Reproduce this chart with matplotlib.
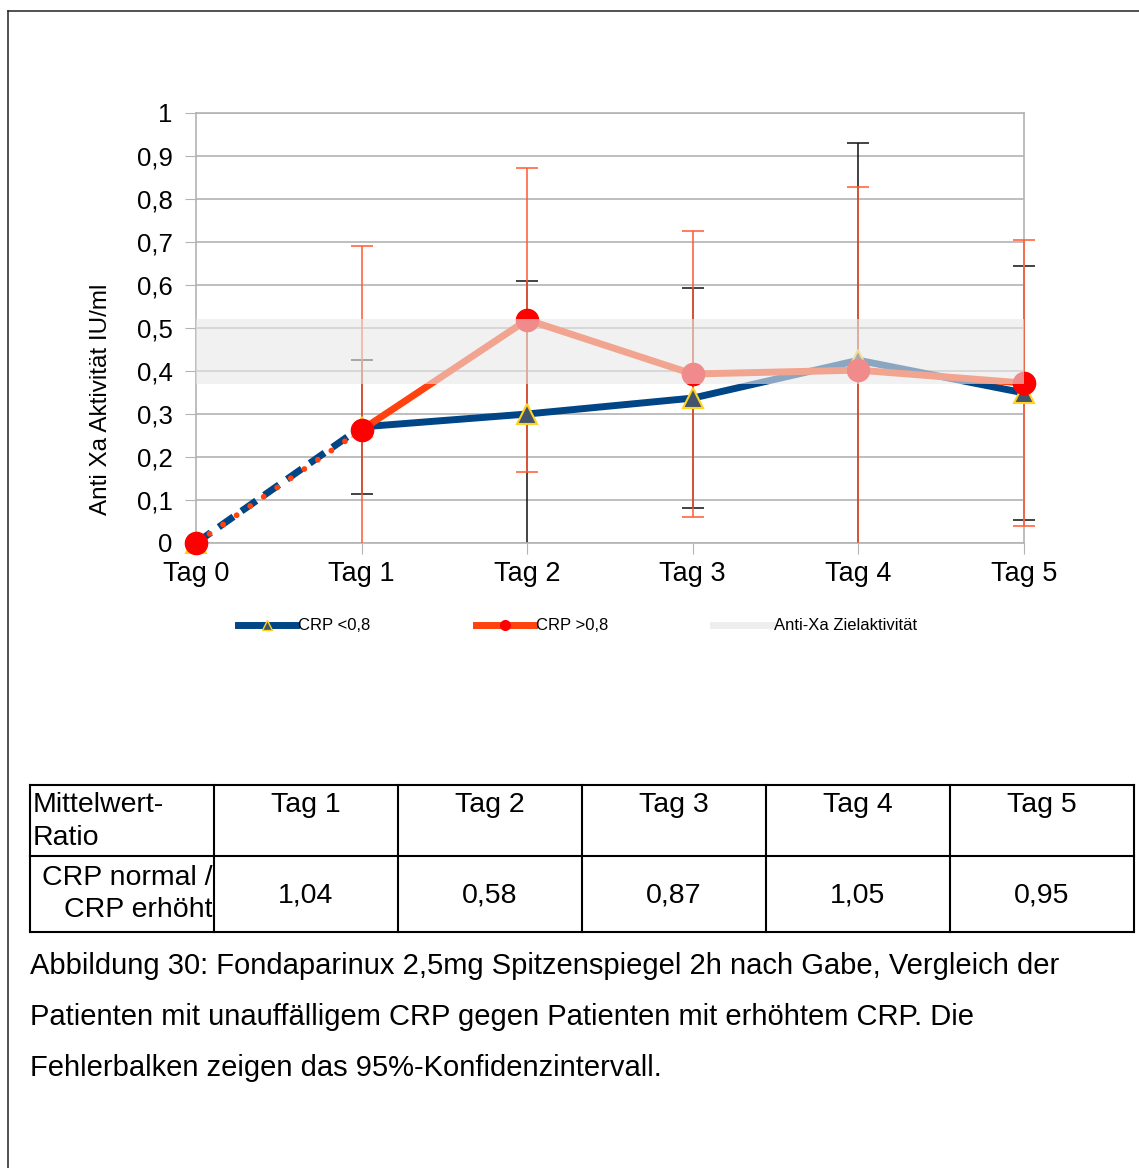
import matplotlib
matplotlib.use("Agg")
import matplotlib.pyplot as plt
from matplotlib.lines import Line2D
from matplotlib.patches import Rectangle
from matplotlib.ticker import FuncFormatter

plt.rcParams["font.family"] = ["Liberation Sans", "DejaVu Sans"]

# ---------------------------------------------------------------------------
# Data
# ---------------------------------------------------------------------------
DAYS = ["Tag 0", "Tag 1", "Tag 2", "Tag 3", "Tag 4", "Tag 5"]

CRP_LOW_MEAN = [0.0, 0.27, 0.30, 0.337, 0.425, 0.349]
CRP_LOW_CI = [0.0, 0.156, 0.31, 0.255, 0.505, 0.295]

CRP_HIGH_MEAN = [0.0, 0.263, 0.519, 0.393, 0.402, 0.372]
CRP_HIGH_CI = [0.0, 0.427, 0.354, 0.333, 0.427, 0.332]

TARGET_LO = 0.369
TARGET_HI = 0.522

RATIO_DAYS = ["Tag 1", "Tag 2", "Tag 3", "Tag 4", "Tag 5"]
RATIO_VALUES = [1.04, 0.58, 0.87, 1.05, 0.95]

CAPTION = [
    "Abbildung 30: Fondaparinux 2,5mg Spitzenspiegel 2h nach Gabe, Vergleich der",
    "Patienten mit unauffälligem CRP gegen Patienten mit erhöhtem CRP. Die",
    "Fehlerbalken zeigen das 95%-Konfidenzintervall.",
]

# ---------------------------------------------------------------------------
# Styles
# ---------------------------------------------------------------------------
BLUE = "#004586"
ORANGE = "#ff420e"
RED = "#ff0000"
TRI_FILL = "#44546a"
TRI_EDGE = "#ffd320"
GRID = "#b3b3b3"

W, H = 1139, 1168
fig = plt.figure(figsize=(W / 100, H / 100), dpi=100)

# page overlay in pixel coordinates (border, table, caption)
page = fig.add_axes([0, 0, 1, 1])
page.set_xlim(0, W)
page.set_ylim(H, 0)
page.axis("off")

ax = fig.add_axes([196 / W, 1 - 543 / H, (1024 - 196) / W, (543 - 113) / H])

x = list(range(len(DAYS)))

# clip region that lets the caps at the outer days show fully
clip = Rectangle((-0.3, 0), 5.6, 1.0, transform=ax.transData)


def draw_ci(mean, ci, color, z):
    eb = ax.errorbar(x, mean, yerr=ci, fmt="none", ecolor=color,
                     elinewidth=1.1, capsize=8, capthick=1.1, zorder=z)
    for art in list(eb.lines[1]) + list(eb.lines[2]):
        art.set_clip_path(clip)


draw_ci(CRP_LOW_MEAN, CRP_LOW_CI, "#111111", 2)
draw_ci(CRP_HIGH_MEAN, CRP_HIGH_CI, "#ff5a32", 3)

# Tag 0 -> Tag 1 drawn dashed, rest solid
ax.plot(x[:2], CRP_LOW_MEAN[:2], color=BLUE, lw=5, ls=(0, (2.6, 1.4)),
        dash_capstyle="butt", zorder=4, clip_on=False)
ax.plot(x[:2], CRP_HIGH_MEAN[:2], color=ORANGE, lw=4.2, ls=(0, (0.01, 2.8)),
        dash_capstyle="round", zorder=5, clip_on=False)
ax.plot(x[1:], CRP_LOW_MEAN[1:], color=BLUE, lw=5, zorder=4,
        solid_capstyle="round", solid_joinstyle="round")
ax.plot(x[1:], CRP_HIGH_MEAN[1:], color=ORANGE, lw=5, zorder=5,
        solid_capstyle="round", solid_joinstyle="round")

ax.plot(x, CRP_LOW_MEAN, ls="none", marker="^", ms=15, mfc=TRI_FILL,
        mec=TRI_EDGE, mew=1.5, zorder=6, clip_on=False)
ax.plot(x, CRP_HIGH_MEAN, ls="none", marker="o", ms=16, mfc=RED,
        mec=RED, zorder=7, clip_on=False)

# target activity band
ax.axhspan(TARGET_LO, TARGET_HI, color="#e8e8e8", alpha=0.6, lw=0, zorder=10)

ax.set_xlim(0, 5)
ax.set_ylim(0, 1)
ax.set_xticks(x)
ax.set_xticklabels(DAYS, fontsize=19.5)
ax.set_yticks([i / 10 for i in range(11)])
ax.yaxis.set_major_formatter(FuncFormatter(lambda v, _: f"{v:g}".replace(".", ",")))
ax.tick_params(axis="y", labelsize=18.5, length=8, color=GRID, pad=9)
ax.tick_params(axis="x", length=8, color=GRID, pad=5)
ax.grid(axis="y", color=GRID, lw=1.2, zorder=1)
ax.set_axisbelow(True)
for side in ["left", "right", "top", "bottom"]:
    ax.spines[side].set_color(GRID)
    ax.spines[side].set_linewidth(1.2)
ax.set_ylabel("Anti Xa Aktivität IU/ml", fontsize=17.5)
ax.yaxis.set_label_coords(-0.102, 0.333)

handles = [
    Line2D([], [], color=BLUE, lw=5, marker="^", ms=7, mfc=TRI_FILL, mec=TRI_EDGE),
    Line2D([], [], color=ORANGE, lw=5, marker="o", ms=7, mfc=RED, mec=RED),
    Line2D([], [], color="#eeeeee", lw=5),
]
fig.legend(handles, ["CRP <0,8", "CRP >0,8", "Anti-Xa Zielaktivität"],
           loc="center left", bbox_to_anchor=(238 / W, 1 - 626 / H),
           ncol=3, frameon=False, borderpad=0, borderaxespad=0,
           handlelength=3.5, handletextpad=0.12, columnspacing=6.3,
           prop={"size": 12})

# page border
page.plot([8, 8], [11, H], color="#222222", lw=1.1)
page.plot([8, W], [11, 11], color="#222222", lw=1.1)

# ratio table
col_edges = [30, 214, 398, 582, 766, 950, 1134]
row_edges = [785, 856, 932]
for cx in col_edges:
    page.plot([cx, cx], [row_edges[0], row_edges[-1]], color="black", lw=1.5)
for ry in row_edges:
    page.plot([col_edges[0], col_edges[-1]], [ry, ry], color="black", lw=1.5)

TFS = 20.5
page.text(33, 805, "Mittelwert-", fontsize=TFS, ha="left", va="center")
page.text(33, 838, "Ratio", fontsize=TFS, ha="left", va="center")
page.text(212, 878, "CRP normal /", fontsize=TFS, ha="right", va="center")
page.text(212, 910, "CRP erhöht", fontsize=TFS, ha="right", va="center")
for i, (day, val) in enumerate(zip(RATIO_DAYS, RATIO_VALUES)):
    cx = (col_edges[i + 1] + col_edges[i + 2]) / 2
    page.text(cx, 805, day, fontsize=TFS, ha="center", va="center")
    page.text(cx, 895, f"{val:.2f}".replace(".", ","), fontsize=TFS,
              ha="center", va="center")

# caption
for i, line in enumerate(CAPTION):
    page.text(30, 966 + 51 * i, line, fontsize=21, ha="left", va="center")

fig.savefig("out.png", dpi=100)
